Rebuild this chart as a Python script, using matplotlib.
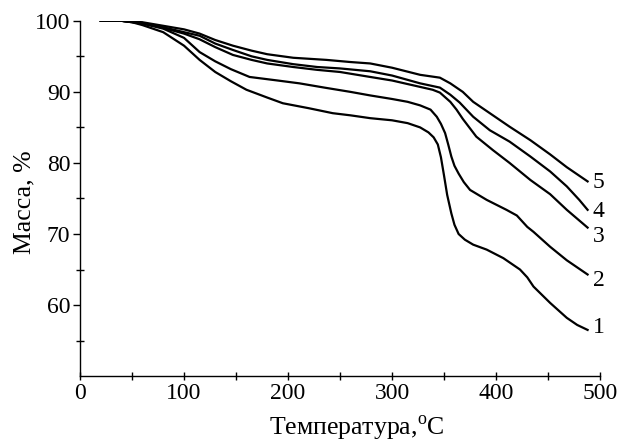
import matplotlib.pyplot as plt

plt.rcParams['font.family'] = ['Liberation Serif', 'DejaVu Serif']
plt.rcParams['mathtext.fontset'] = 'custom'
plt.rcParams['mathtext.rm'] = 'Liberation Serif'

# temperature (C) / mass (%)
t1 = [20, 40, 50, 60, 80, 100, 115, 130, 145, 160, 180, 195, 220, 243, 260, 279, 300, 315,
      327, 335, 340, 344, 347, 350, 353, 357, 360, 364, 370, 378, 391, 407, 423, 430, 436,
      452, 468, 478, 488]
m1 = [100, 100, 99.8, 99.4, 98.4, 96.5, 94.5, 92.8, 91.5, 90.3, 89.2, 88.4, 87.7, 87.0, 86.7,
      86.3, 86.0, 85.6, 85.0, 84.3, 83.6, 82.6, 80.8, 78.2, 75.5, 72.9, 71.3, 70.0, 69.2, 68.5,
      67.8, 66.6, 65.0, 63.9, 62.6, 60.3, 58.2, 57.2, 56.5]

t2 = [20, 40, 60, 80, 100, 115, 130, 145, 163, 190, 211, 235, 260, 279, 300, 315, 327, 337,
      343, 347, 351, 354, 357, 360, 364, 369, 375, 391, 410, 420, 430, 436, 452, 468, 488]
m2 = [100, 100, 99.6, 98.9, 97.6, 95.6, 94.3, 93.2, 92.1, 91.6, 91.2, 90.6, 90.0, 89.5, 89.0,
      88.6, 88.1, 87.5, 86.5, 85.5, 84.2, 82.6, 80.9, 79.6, 78.5, 77.3, 76.2, 74.8, 73.4, 72.6,
      71.0, 70.3, 68.2, 66.3, 64.3]

t3 = [20, 40, 60, 80, 100, 115, 130, 147, 165, 180, 205, 228, 250, 279, 300, 327, 339, 346,
      356, 362, 368, 381, 397, 413, 433, 452, 468, 488]
m3 = [100, 100, 99.7, 99.0, 98.2, 97.4, 96.3, 95.2, 94.5, 94.0, 93.5, 93.1, 92.8, 92.1, 91.6,
      90.7, 90.3, 89.9, 88.6, 87.5, 86.2, 83.7, 81.8, 80.0, 77.6, 75.6, 73.4, 70.9]

t4 = [20, 40, 60, 80, 100, 115, 130, 147, 165, 180, 205, 228, 250, 279, 300, 327, 346, 356,
      365, 378, 394, 413, 433, 452, 468, 480, 488]
m4 = [100, 100, 99.7, 99.1, 98.4, 97.9, 96.8, 95.9, 95.0, 94.5, 93.9, 93.5, 93.3, 92.9, 92.3,
      91.2, 90.6, 89.6, 88.5, 86.5, 84.6, 83.0, 80.9, 78.8, 76.7, 74.8, 73.4]

t5 = [20, 40, 60, 80, 100, 115, 130, 147, 165, 180, 205, 237, 260, 279, 300, 327, 346, 356,
      362, 368, 378, 394, 413, 433, 452, 468, 488]
m5 = [100, 100, 99.8, 99.3, 98.8, 98.2, 97.3, 96.5, 95.8, 95.3, 94.8, 94.5, 94.2, 94.0, 93.4,
      92.4, 92.0, 91.2, 90.6, 90.0, 88.6, 87.0, 85.1, 83.2, 81.2, 79.4, 77.4]

curve_names = ['1', '2', '3', '4', '5']
label_y = [56.8, 63.5, 69.6, 73.1, 77.2]

fig = plt.figure(figsize=(6.35, 4.43), dpi=100)
ax = fig.add_axes([0.126, 0.151, 0.819, 0.802])

for t, m in [(t1, m1), (t2, m2), (t3, m3), (t4, m4), (t5, m5)]:
    ax.plot(t, m, color='black', lw=1.6, solid_joinstyle='round')

for name, y in zip(curve_names, label_y):
    ax.text(493, y, name, fontsize=17, ha='left', va='center')

ax.set_xlim(0, 500)
ax.set_ylim(50, 100)
ax.set_xticks([0, 100, 200, 300, 400, 500])
ax.set_xticks([50, 150, 250, 350, 450], minor=True)
ax.set_yticks([60, 70, 80, 90, 100])
ax.set_yticks([55, 65, 75, 85, 95], minor=True)
ax.spines['top'].set_visible(False)
ax.spines['right'].set_visible(False)
for s in ['left', 'bottom']:
    ax.spines[s].set_linewidth(1.0)
ax.tick_params(axis='x', which='both', direction='inout', length=6, width=1.0,
               labelsize=17, pad=2)
ax.tick_params(axis='y', which='major', direction='out', length=5, width=1.0,
               labelsize=17, pad=2)
ax.tick_params(axis='y', which='minor', direction='inout', length=6, width=1.0)

fig.text(357 / 635, 1 - 435 / 443, 'Температура,$^{\\mathrm{o}}$C', fontsize=18.5,
         ha='center', va='baseline')
fig.text(24 / 635, 1 - 202 / 443, 'Масса, %', fontsize=18.5, rotation=90,
         ha='center', va='center')

fig.savefig('out.png', dpi=100)
